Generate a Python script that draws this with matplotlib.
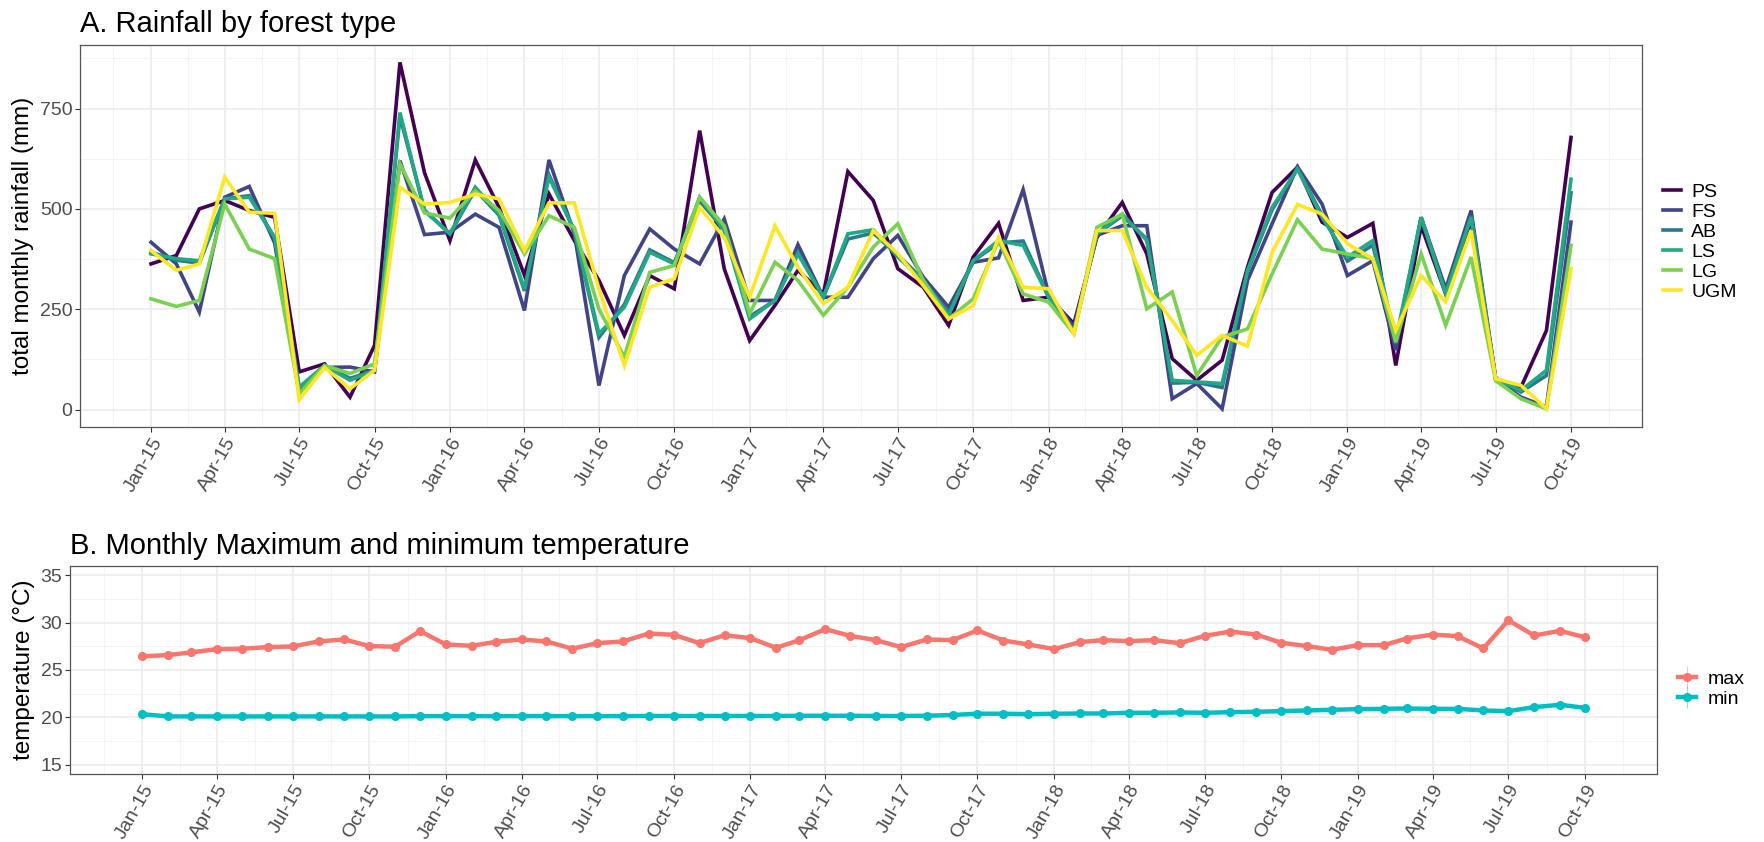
import matplotlib
matplotlib.use("Agg")
import matplotlib.pyplot as plt
import numpy as np
import pandas as pd
from matplotlib.lines import Line2D
from matplotlib.legend_handler import HandlerTuple

plt.rcParams["font.family"] = ["Liberation Sans", "DejaVu Sans"]

months = pd.date_range("2015-01-01", "2019-10-01", freq="MS")

# monthly rainfall (mm) per forest type
forest_types = ["PS", "FS", "AB", "LS", "LG", "UGM"]
forest_colors = ["#440154", "#414487", "#2A788E", "#22A884", "#7AD151", "#FDE725"]

ps = [363, 384, 500, 521, 496, 479, 94, 114, 31, 160, 865, 590,
      421, 622, 504, 335, 537, 421, 322, 185, 334, 301, 695, 351,
      172, 260, 347, 288, 593, 521, 351, 305, 210, 380, 464, 272,
      280, 214, 429, 516, 388, 127, 73, 123, 355, 541, 604, 467,
      429, 464, 110, 458, 288, 471, 77, 56, 197, 678]
fs = [417, 363, 243, 529, 556, 415, 45, 105, 106, 94, 620, 436,
      442, 487, 454, 247, 622, 438, 60, 334, 450, 400, 363, 475,
      272, 272, 411, 280, 280, 376, 434, 330, 255, 367, 378, 548,
      288, 206, 434, 458, 458, 27, 65, 2, 322, 463, 605, 512,
      334, 371, 148, 479, 301, 496, 77, 31, 7, 467]
ab = [392, 372, 365, 525, 533, 427, 54, 110, 78, 97, 730, 497,
      438, 548, 484, 296, 585, 444, 180, 262, 398, 366, 520, 448,
      232, 272, 392, 280, 425, 440, 385, 324, 240, 370, 415, 420,
      282, 197, 437, 483, 425, 66, 68, 55, 344, 498, 601, 484,
      370, 410, 165, 479, 292, 482, 77, 44, 85, 540]
ls = [388, 376, 371, 525, 529, 429, 56, 110, 73, 98, 740, 495,
      438, 554, 487, 301, 579, 446, 189, 255, 392, 363, 529, 446,
      226, 272, 388, 280, 438, 448, 380, 322, 235, 371, 421, 409,
      280, 193, 438, 487, 421, 73, 69, 65, 347, 504, 599, 479,
      380, 421, 172, 479, 288, 479, 77, 48, 98, 574]
lg = [276, 257, 272, 512, 400, 376, 40, 110, 90, 114, 612, 490,
      477, 545, 496, 388, 483, 454, 250, 131, 342, 359, 529, 458,
      239, 367, 322, 235, 305, 405, 463, 322, 226, 276, 421, 288,
      268, 189, 454, 487, 251, 293, 85, 181, 201, 338, 473, 400,
      388, 376, 168, 388, 210, 380, 72, 27, 2, 409]
ugm = [396, 347, 363, 579, 492, 489, 25, 105, 52, 98, 554, 512,
       516, 537, 525, 396, 515, 515, 300, 110, 305, 326, 504, 429,
       280, 458, 355, 264, 305, 446, 388, 309, 226, 259, 429, 305,
       301, 189, 446, 446, 305, 222, 135, 185, 158, 392, 511, 487,
       413, 376, 197, 334, 268, 446, 77, 60, 2, 351]
rainfall = [ps, fs, ab, ls, lg, ugm]

# monthly temperature (°C)
temp_max = [26.44, 26.58, 26.86, 27.21, 27.25, 27.42, 27.49, 28.02, 28.23, 27.53, 27.46, 29.11,
            27.70, 27.56, 27.98, 28.23, 28.02, 27.25, 27.84, 28.02, 28.86, 28.72, 27.84, 28.68,
            28.37, 27.35, 28.16, 29.32, 28.61, 28.16, 27.42, 28.23, 28.16, 29.18, 28.12, 27.70,
            27.21, 27.95, 28.16, 28.05, 28.16, 27.84, 28.61, 29.07, 28.75, 27.88, 27.53, 27.14,
            27.63, 27.63, 28.33, 28.75, 28.58, 27.28, 30.26, 28.65, 29.14, 28.47]
temp_min = [20.33, 20.09, 20.09, 20.09, 20.09, 20.09, 20.09, 20.09, 20.09, 20.09, 20.09, 20.12,
            20.12, 20.12, 20.12, 20.12, 20.12, 20.12, 20.12, 20.12, 20.14, 20.14, 20.14, 20.14,
            20.14, 20.14, 20.16, 20.16, 20.16, 20.14, 20.14, 20.16, 20.24, 20.38, 20.37, 20.33,
            20.37, 20.40, 20.40, 20.47, 20.47, 20.51, 20.47, 20.54, 20.58, 20.65, 20.72, 20.79,
            20.86, 20.89, 20.93, 20.89, 20.89, 20.72, 20.65, 21.07, 21.32, 21.00]
temp_colors = {"max": "#F8766D", "min": "#00BFC4"}

TICK_SIZE = 14
AXIS_TITLE_SIZE = 17.5
TITLE_SIZE = 21


def style_panel(ax, title, ylabel, yticks, yminor, ylim):
    x = matplotlib.dates.date2num(months)
    span = x[-1] - x[0]
    ax.set_xlim(x[0] - 0.05 * span, x[-1] + 0.05 * span)
    majors = pd.date_range("2015-01-01", "2019-10-01", freq="3MS")
    ext = matplotlib.dates.date2num(pd.date_range("2014-10-01", "2020-01-01", freq="3MS"))
    ax.set_xticks(matplotlib.dates.date2num(majors))
    ax.set_xticks((ext[:-1] + ext[1:]) / 2, minor=True)
    ax.set_xticklabels([d.strftime("%b-%y") for d in majors], rotation=60,
                       ha="right", va="top", rotation_mode="anchor")
    ax.set_yticks(yticks)
    ax.set_yticks(yminor, minor=True)
    ax.set_ylim(*ylim)
    ax.grid(which="major", color="#EBEBEB", lw=1.1)
    ax.grid(which="minor", color="#F2F2F2", lw=0.6)
    ax.set_axisbelow(True)
    ax.tick_params(which="major", length=3.5, width=0.8, color="#333333",
                   labelsize=TICK_SIZE, labelcolor="#4D4D4D", pad=2)
    ax.tick_params(which="minor", length=0)
    for sp in ax.spines.values():
        sp.set_color("#555555")
        sp.set_linewidth(0.9)
    ax.set_ylabel(ylabel, fontsize=AXIS_TITLE_SIZE, labelpad=4)
    ax.set_title(title, loc="left", fontsize=TITLE_SIZE, pad=9)


fig = plt.figure(figsize=(17.65, 8.42), dpi=100)

# A: rainfall
ax1 = fig.add_axes([80 / 1765, 1 - 427 / 842, 1562 / 1765, 382 / 842])
for name, vals, col in zip(forest_types, rainfall, forest_colors):
    ax1.plot(months, vals, color=col, lw=2.6, label=name, solid_joinstyle="miter")
style_panel(ax1, "A. Rainfall by forest type", "total monthly rainfall (mm)",
            [0, 250, 500, 750], [125, 375, 625, 875], (-43.3, 908.3))
ax1.legend(loc="center left", bbox_to_anchor=(1663 / 1765, 1 - 242 / 842),
           bbox_transform=fig.transFigure, frameon=False, borderpad=0,
           borderaxespad=0, fontsize=TICK_SIZE, handlelength=0.95,
           handletextpad=0.5, labelspacing=0.12)

# B: temperature
ax2 = fig.add_axes([70 / 1765, 1 - 774 / 842, 1587 / 1765, 208 / 842])
handles = []
for key, vals in (("max", temp_max), ("min", temp_min)):
    col = temp_colors[key]
    ax2.plot(months, vals, color=col, lw=3.2, marker="o", ms=5.5)
    handles.append((Line2D([], [], color=col, lw=0, marker="|", ms=16, mew=0.8, alpha=0.45),
                    Line2D([], [], color=col, lw=3.2, marker="o", ms=5.5)))
style_panel(ax2, "B. Monthly Maximum and minimum temperature", "temperature (°C)",
            [15, 20, 25, 30, 35], [17.5, 22.5, 27.5, 32.5], (14, 36))
ax2.legend(handles, ["max", "min"], handler_map={tuple: HandlerTuple(ndivide=1)},
           loc="center left", bbox_to_anchor=(1678 / 1765, 1 - 689 / 842),
           bbox_transform=fig.transFigure, frameon=False, borderpad=0,
           borderaxespad=0, fontsize=TICK_SIZE, handlelength=0.95, numpoints=1,
           handletextpad=0.6, labelspacing=0.12)

fig.savefig("out.png", dpi=100)
